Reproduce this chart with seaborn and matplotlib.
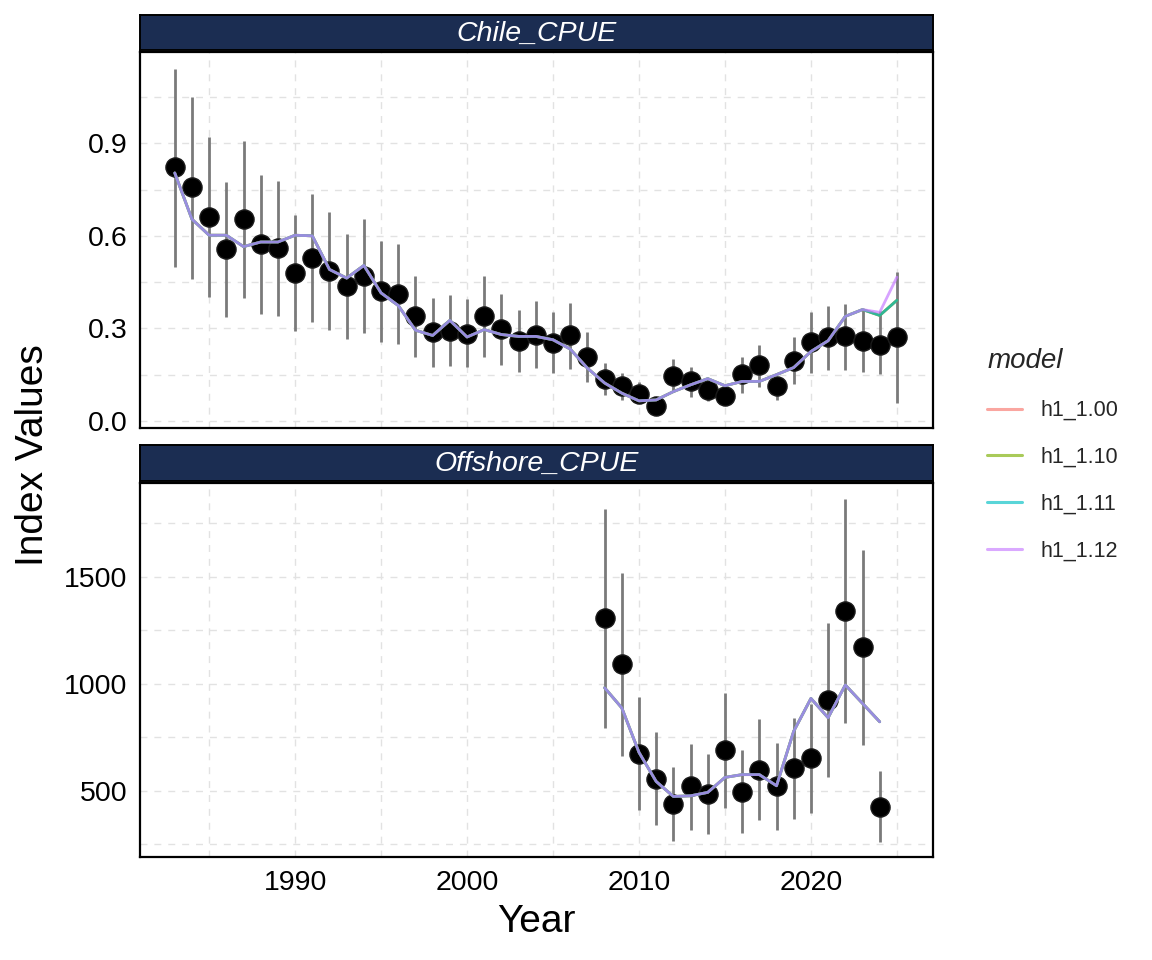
import numpy as np
import pandas as pd
import matplotlib
matplotlib.use("Agg")
import matplotlib.pyplot as plt
import seaborn as sns
from matplotlib.lines import Line2D
from matplotlib.ticker import MultipleLocator

# ---------------- data ----------------
chile_years = list(range(1983, 2026))
chile_obs = [0.822, 0.757, 0.661, 0.556, 0.653, 0.575, 0.560, 0.481, 0.529, 0.487,
             0.437, 0.469, 0.421, 0.412, 0.339, 0.287, 0.291, 0.283, 0.339, 0.298,
             0.258, 0.280, 0.253, 0.277, 0.207, 0.136, 0.114, 0.088, 0.047, 0.144,
             0.128, 0.101, 0.082, 0.152, 0.181, 0.112, 0.195, 0.255, 0.272, 0.274,
             0.260, 0.247, 0.271]
chile_lo = [0.499, 0.459, 0.401, 0.337, 0.397, 0.348, 0.339, 0.291, 0.321, 0.296,
            0.266, 0.285, 0.255, 0.249, 0.207, 0.175, 0.179, 0.174, 0.206, 0.181,
            0.157, 0.171, 0.155, 0.168, 0.125, 0.085, 0.068, 0.058, 0.033, 0.095,
            0.079, 0.063, 0.052, 0.090, 0.110, 0.068, 0.119, 0.155, 0.164, 0.166,
            0.157, 0.152, 0.058]
chile_hi = [1.142, 1.050, 0.920, 0.773, 0.909, 0.798, 0.779, 0.668, 0.737, 0.676,
            0.607, 0.653, 0.582, 0.574, 0.471, 0.400, 0.408, 0.395, 0.469, 0.412,
            0.359, 0.388, 0.354, 0.383, 0.287, 0.188, 0.155, 0.125, 0.070, 0.201,
            0.175, 0.139, 0.115, 0.207, 0.247, 0.139, 0.272, 0.354, 0.372, 0.380,
            0.363, 0.356, 0.482]
chile_fit_h1_100 = [0.804, 0.654, 0.602, 0.602, 0.565, 0.580, 0.580, 0.602, 0.600, 0.491,
                    0.463, 0.504, 0.415, 0.374, 0.294, 0.277, 0.326, 0.272, 0.296, 0.280,
                    0.274, 0.274, 0.263, 0.233, 0.171, 0.123, 0.090, 0.065, 0.068, 0.095,
                    0.117, 0.137, 0.114, 0.128, 0.128, 0.150, 0.173, 0.225, 0.260, 0.339,
                    0.361, 0.342, 0.391]
chile_fit_h1_110 = list(chile_fit_h1_100)
chile_fit_h1_111 = list(chile_fit_h1_100)
chile_fit_h1_112 = [0.804, 0.654, 0.602, 0.602, 0.565, 0.580, 0.580, 0.602, 0.600, 0.491,
                    0.463, 0.504, 0.415, 0.374, 0.294, 0.277, 0.326, 0.272, 0.296, 0.280,
                    0.274, 0.274, 0.263, 0.233, 0.171, 0.123, 0.090, 0.065, 0.068, 0.095,
                    0.117, 0.137, 0.114, 0.128, 0.128, 0.150, 0.173, 0.225, 0.260, 0.339,
                    0.361, 0.352, 0.466]

off_years = list(range(2008, 2025))
off_obs = [1306, 1090, 673, 556, 439, 520, 486, 692, 494, 598, 523, 606, 653, 922, 1340, 1172, 426]
off_lo = [794, 664, 411, 340, 267, 317, 297, 419, 301, 364, 317, 367, 395, 562, 814, 712, 259]
off_hi = [1817, 1516, 937, 775, 611, 720, 673, 958, 689, 833, 723, 841, 903, 1283, 1864, 1626, 590]
off_fit = [981, 887, 679, 543, 473, 476, 492, 562, 575, 575, 523, 778, 931, 841, 994, 908, 822]

models = ["h1_1.00", "h1_1.10", "h1_1.11", "h1_1.12"]
model_colors = ["#F8766D", "#7CAE00", "#00BFC4", "#C77CFF"]
panels = ["Chile_CPUE", "Offshore_CPUE"]

# ---------------- frames ----------------
chile_fits = [chile_fit_h1_100, chile_fit_h1_110, chile_fit_h1_111, chile_fit_h1_112]
fit_rows = []
for m, vals in zip(models, chile_fits):
    for y, v in zip(chile_years, vals):
        fit_rows.append(dict(panel=panels[0], model=m, year=y, value=v))
for m in models:
    for y, v in zip(off_years, off_fit):
        fit_rows.append(dict(panel=panels[1], model=m, year=y, value=v))
fit_df = pd.DataFrame(fit_rows)

obs_df = pd.concat([
    pd.DataFrame(dict(panel=panels[0], year=chile_years, obs=chile_obs, lo=chile_lo, hi=chile_hi)),
    pd.DataFrame(dict(panel=panels[1], year=off_years, obs=off_obs, lo=off_lo, hi=off_hi)),
])

# ---------------- figure ----------------
sns.set_theme(style="white")
plt.rcParams['font.family'] = ['Liberation Sans', 'DejaVu Sans']

fig = plt.figure(figsize=(11.52, 9.6), dpi=100)
L, W = 140 / 1152, 793 / 1152
def fy(px):
    return 1 - px / 960

ax1 = fig.add_axes([L, fy(428), W, (428 - 52) / 960])
ax2 = fig.add_axes([L, fy(857), W, (857 - 483) / 960], sharex=ax1)
s1 = fig.add_axes([L, fy(50), W, 35 / 960])
s2 = fig.add_axes([L, fy(481), W, 36 / 960])

pal = dict(zip(models, model_colors))
ylims = [(-0.023, 1.196), (190, 1938)]
majors = [0.3, 500]
minors = [0.15, 250]

for ax, strip, panel, yl, mj, mn in zip([ax1, ax2], [s1, s2], panels, ylims, majors, minors):
    od = obs_df[obs_df.panel == panel]
    fd = fit_df[fit_df.panel == panel]
    ax.vlines(od.year, od.lo, od.hi, color="#7a7a7a", linewidth=2.0, zorder=2)
    sns.scatterplot(data=od, x="year", y="obs", color="black", edgecolor="#1a1a1a",
                    linewidth=1.0, s=190, ax=ax, zorder=3, legend=False)
    sns.lineplot(data=fd, x="year", y="value", hue="model", palette=pal,
                 hue_order=models, alpha=0.7, linewidth=2.0, ax=ax, legend=False,
                 zorder=4, errorbar=None)
    ax.set_xlim(1980.98, 2027.1)
    ax.set_ylim(*yl)
    ax.xaxis.set_major_locator(MultipleLocator(10))
    ax.xaxis.set_minor_locator(MultipleLocator(5))
    ax.yaxis.set_major_locator(MultipleLocator(mj))
    ax.yaxis.set_minor_locator(MultipleLocator(mn))
    ax.grid(which="both", color="#e2e2e2", linestyle=(0, (5, 5)), linewidth=1.0)
    ax.set_axisbelow(True)
    for sp in ax.spines.values():
        sp.set_visible(True)
        sp.set_color("black")
        sp.set_linewidth(1.6)
    ax.tick_params(axis="both", which="both", length=0, labelsize=20.5, colors="black", pad=9)
    ax.set_xlabel("")
    ax.set_ylabel("")
    ax.set_facecolor("white")

    strip.set_facecolor("#1b2d52")
    strip.set_xticks([])
    strip.set_yticks([])
    for sp in strip.spines.values():
        sp.set_visible(True)
        sp.set_color("black")
        sp.set_linewidth(1.4)
    strip.text(0.5, 0.47, panel, transform=strip.transAxes, ha="center", va="center",
               color="white", fontsize=20.5, fontstyle="italic")

ax1.tick_params(axis="x", labelbottom=False)
ax1.yaxis.set_major_formatter(matplotlib.ticker.FormatStrFormatter("%.1f"))

fig.text(33 / 1152, fy(455), "Index Values", rotation=90, ha="center", va="center",
         fontsize=28, color="black")
fig.text((140 + 933) / 2 / 1152, fy(922), "Year", ha="center", va="center",
         fontsize=28, color="black")

handles = [Line2D([0], [0], color=c, alpha=0.65, linewidth=2.2) for c in model_colors]
leg = fig.legend(handles, models, title="model", loc="center left",
                 bbox_to_anchor=(968 / 1152, fy(455)), frameon=False,
                 fontsize=15.5, title_fontsize=20, handlelength=1.6,
                 handletextpad=0.85, labelspacing=1.2, alignment="left")
leg.get_title().set_fontstyle("italic")

fig.savefig("out.png", dpi=100)
